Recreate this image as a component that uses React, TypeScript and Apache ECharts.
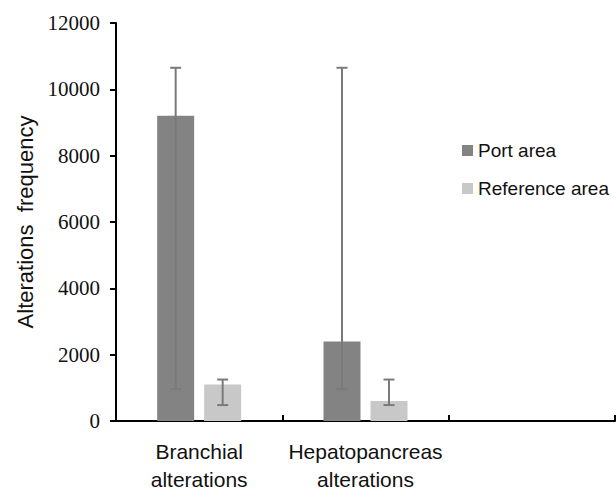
import React, { useEffect, useRef } from "react";
import * as echarts from "echarts";

const categories = ["Branchial\nalterations", "Hepatopancreas\nalterations", ""];
const seriesNames = ["Port area", "Reference area"];
const portValues: (number | null)[] = [9200, 2400, null];
const referenceValues: (number | null)[] = [1100, 600, null];
const portErrLow: (number | null)[] = [960, 960, null];
const portErrHigh: (number | null)[] = [10650, 10650, null];
const refErrLow: (number | null)[] = [480, 480, null];
const refErrHigh: (number | null)[] = [1250, 1250, null];
const yTicks = { min: 0, max: 12000, interval: 2000 };

const BAR_W = 37;
const BAR_GAP_PX = 10;
const PORT_COLOR = "#838383";
const REF_COLOR = "#c8c8c8";
const ERR_COLOR = "#7a7a7a";

function errorSeries(low: (number | null)[], high: (number | null)[], offset: number) {
  const data = categories.map((_, i) => [i, low[i], high[i]]).filter((d) => d[1] != null);
  return {
    type: "custom",
    z: 10,
    silent: true,
    data,
    encode: { x: 0, y: [1, 2] },
    renderItem: (params: any, api: any) => {
      const idx = api.value(0);
      const lo = api.coord([idx, api.value(1)]);
      const hi = api.coord([idx, api.value(2)]);
      const x = lo[0] + offset;
      const cap = 5.5;
      const style = { stroke: ERR_COLOR, lineWidth: 2 };
      return {
        type: "group",
        children: [
          { type: "line", shape: { x1: x, y1: lo[1], x2: x, y2: hi[1] }, style },
          { type: "line", shape: { x1: x - cap, y1: hi[1], x2: x + cap, y2: hi[1] }, style },
          { type: "line", shape: { x1: x - cap, y1: lo[1], x2: x + cap, y2: lo[1] }, style },
        ],
      };
    },
  };
}

export default function App() {
  const ref = useRef<HTMLDivElement>(null);
  useEffect(() => {
    if (!ref.current) return;
    const chart = echarts.init(ref.current, null, { renderer: "svg" });
    const half = (BAR_W + BAR_GAP_PX) / 2;
    chart.setOption({
      animation: false,
      backgroundColor: "#ffffff",
      grid: { left: 116, top: 23, bottom: 69, right: 1, containLabel: false },
      legend: {
        data: seriesNames,
        orient: "vertical",
        left: 457,
        top: 136,
        itemWidth: 11,
        itemHeight: 11,
        itemGap: 19,
        icon: "rect",
        textStyle: { fontFamily: "Liberation Sans", fontSize: 19, color: "#111" },
      },
      xAxis: {
        type: "category",
        data: categories,
        axisLine: { lineStyle: { color: "#000", width: 2 } },
        axisTick: { show: true, inside: true, length: 6, lineStyle: { color: "#000", width: 2 } },
        axisLabel: {
          fontFamily: "Liberation Sans",
          fontSize: 21,
          lineHeight: 28,
          color: "#111",
          margin: 16,
          interval: 0,
        },
      },
      yAxis: {
        type: "value",
        min: yTicks.min,
        max: yTicks.max,
        interval: yTicks.interval,
        name: "Alterations  frequency",
        nameLocation: "middle",
        nameGap: 80,
        nameTextStyle: { fontFamily: "Liberation Sans", fontSize: 22, color: "#111" },
        splitLine: { show: false },
        axisLine: { show: true, lineStyle: { color: "#000", width: 2 } },
        axisTick: { show: true, length: 6, lineStyle: { color: "#000", width: 2 } },
        axisLabel: {
          fontFamily: "Liberation Serif",
          fontSize: 21,
          color: "#111",
          margin: 16,
          formatter: (v: number) => String(v),
        },
      },
      series: [
        {
          name: seriesNames[0],
          type: "bar",
          data: portValues,
          barWidth: BAR_W,
          barGap: `${(BAR_GAP_PX / BAR_W) * 100}%`,
          itemStyle: { color: PORT_COLOR },
        },
        {
          name: seriesNames[1],
          type: "bar",
          data: referenceValues,
          barWidth: BAR_W,
          itemStyle: { color: REF_COLOR },
        },
        errorSeries(portErrLow, portErrHigh, -half),
        errorSeries(refErrLow, refErrHigh, half),
      ],
    });
    return () => chart.dispose();
  }, []);
  return (
    <div
      ref={ref}
      style={{ position: "fixed", left: 0, top: 0, width: 616, height: 493, background: "#fff" }}
    />
  );
}
